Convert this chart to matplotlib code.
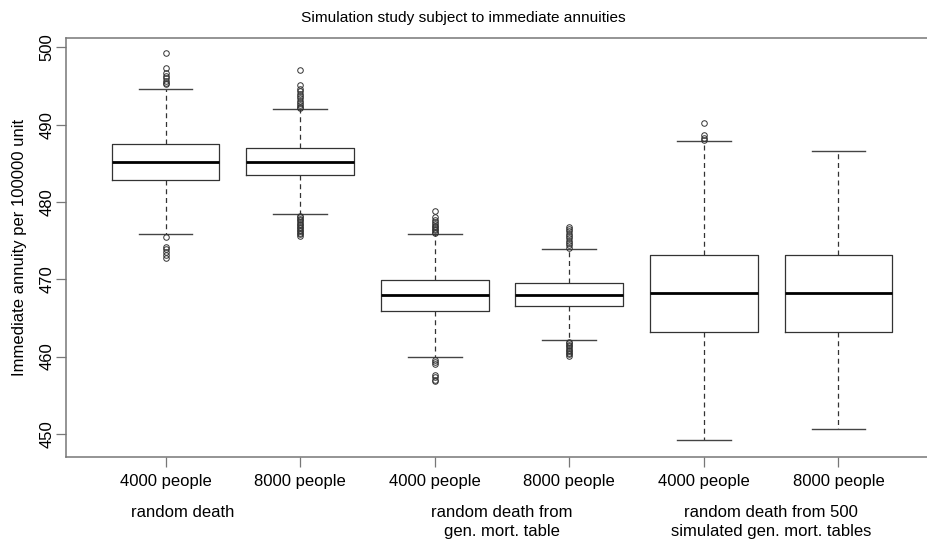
import matplotlib
matplotlib.use("Agg")
import matplotlib.pyplot as plt

plt.rcParams["font.family"] = ["Liberation Sans", "DejaVu Sans"]

# Summary statistics of the simulated annuity values (per 100000 unit)
tick_labels = ["4000 people", "8000 people", "4000 people",
               "8000 people", "4000 people", "8000 people"]
group_labels = ["random death",
                "random death from\ngen. mort. table",
                "random death from 500\nsimulated gen. mort. tables"]
group_pos = [1.125, 3.5, 5.5]

medians = [485.17, 485.17, 468.0, 468.0, 468.2, 468.2]
q1 = [482.8, 483.53, 465.94, 466.5, 463.2, 463.2]
q3 = [487.5, 486.98, 469.93, 469.5, 473.1, 473.1]
whisk_lo = [475.8, 478.4, 459.9, 462.1, 449.2, 450.6]
whisk_hi = [494.66, 491.98, 475.8, 473.9, 487.84, 486.6]

outliers = [
    [499.2, 497.3, 496.7, 496.3, 496.0, 495.7, 495.4, 495.2,
     475.5, 474.2, 473.9, 473.5, 473.1, 472.8],
    [497.0, 495.1, 494.6, 494.3, 494.0, 493.7, 493.4, 493.1, 492.8,
     492.5, 492.3, 492.1,
     478.2, 478.0, 477.8, 477.6, 477.4, 477.2, 477.0, 476.8, 476.6,
     476.4, 476.2, 476.0, 475.8, 475.6],
    [478.8, 478.1, 477.7, 477.4, 477.1, 476.9, 476.7, 476.5, 476.3,
     476.1, 475.95,
     459.6, 459.3, 459.0, 457.6, 457.3, 457.0, 456.8],
    [476.8, 476.5, 476.2, 475.9, 475.6, 475.3, 475.0, 474.7, 474.4, 474.1,
     461.9, 461.7, 461.5, 461.3, 461.1, 460.9, 460.7, 460.5, 460.3, 460.1],
    [490.2, 488.6, 488.3, 488.0],
    [],
]

stats = []
for i in range(len(medians)):
    stats.append({
        "med": medians[i], "q1": q1[i], "q3": q3[i],
        "whislo": whisk_lo[i], "whishi": whisk_hi[i],
        "fliers": outliers[i],
    })

fig = plt.figure(figsize=(9.27, 5.41), dpi=100)
# plot region runs a little past the right edge of the figure
ax = fig.add_axes([66 / 927, 84 / 541, 872 / 927, 419 / 541])

ax.bxp(stats, positions=range(1, 7), widths=0.8, capwidths=0.4,
       boxprops=dict(color="#333333", linewidth=0.9),
       medianprops=dict(color="black", linewidth=2.0),
       whiskerprops=dict(color="#333333", linewidth=0.9, linestyle=(0, (4, 3))),
       capprops=dict(color="#444444", linewidth=1.0),
       flierprops=dict(marker="o", markerfacecolor="none",
                       markeredgecolor="#333333", markersize=4,
                       markeredgewidth=0.7))

ax.set_xlim(0.26, 6.74)
ax.set_ylim(447.0, 501.2)

for s in ax.spines.values():
    s.set_color("#777777")
    s.set_linewidth(1.1)

ax.set_yticks([450, 460, 470, 480, 490, 500])
ax.tick_params(axis="y", length=7, width=0.9, color="#777777",
               labelsize=12, pad=1, labelrotation=90)
for lab in ax.get_yticklabels():
    lab.set_verticalalignment("center")
ax.set_xticks(range(1, 7))
ax.set_xticklabels(tick_labels)
ax.tick_params(axis="x", length=7, width=0.9, color="#777777",
               labelsize=12, pad=5)

for x, lab in zip(group_pos, group_labels):
    ax.text(x, -0.115, lab, transform=ax.get_xaxis_transform(),
            ha="center", va="top", fontsize=12, linespacing=1.3)

ax.set_ylabel("Immediate annuity per 100000 unit", fontsize=12, labelpad=9)
fig.text(0.5, 0.967, "Simulation study subject to immediate annuities",
         ha="center", va="center", fontsize=11.1)

fig.savefig("out.png", dpi=100)
